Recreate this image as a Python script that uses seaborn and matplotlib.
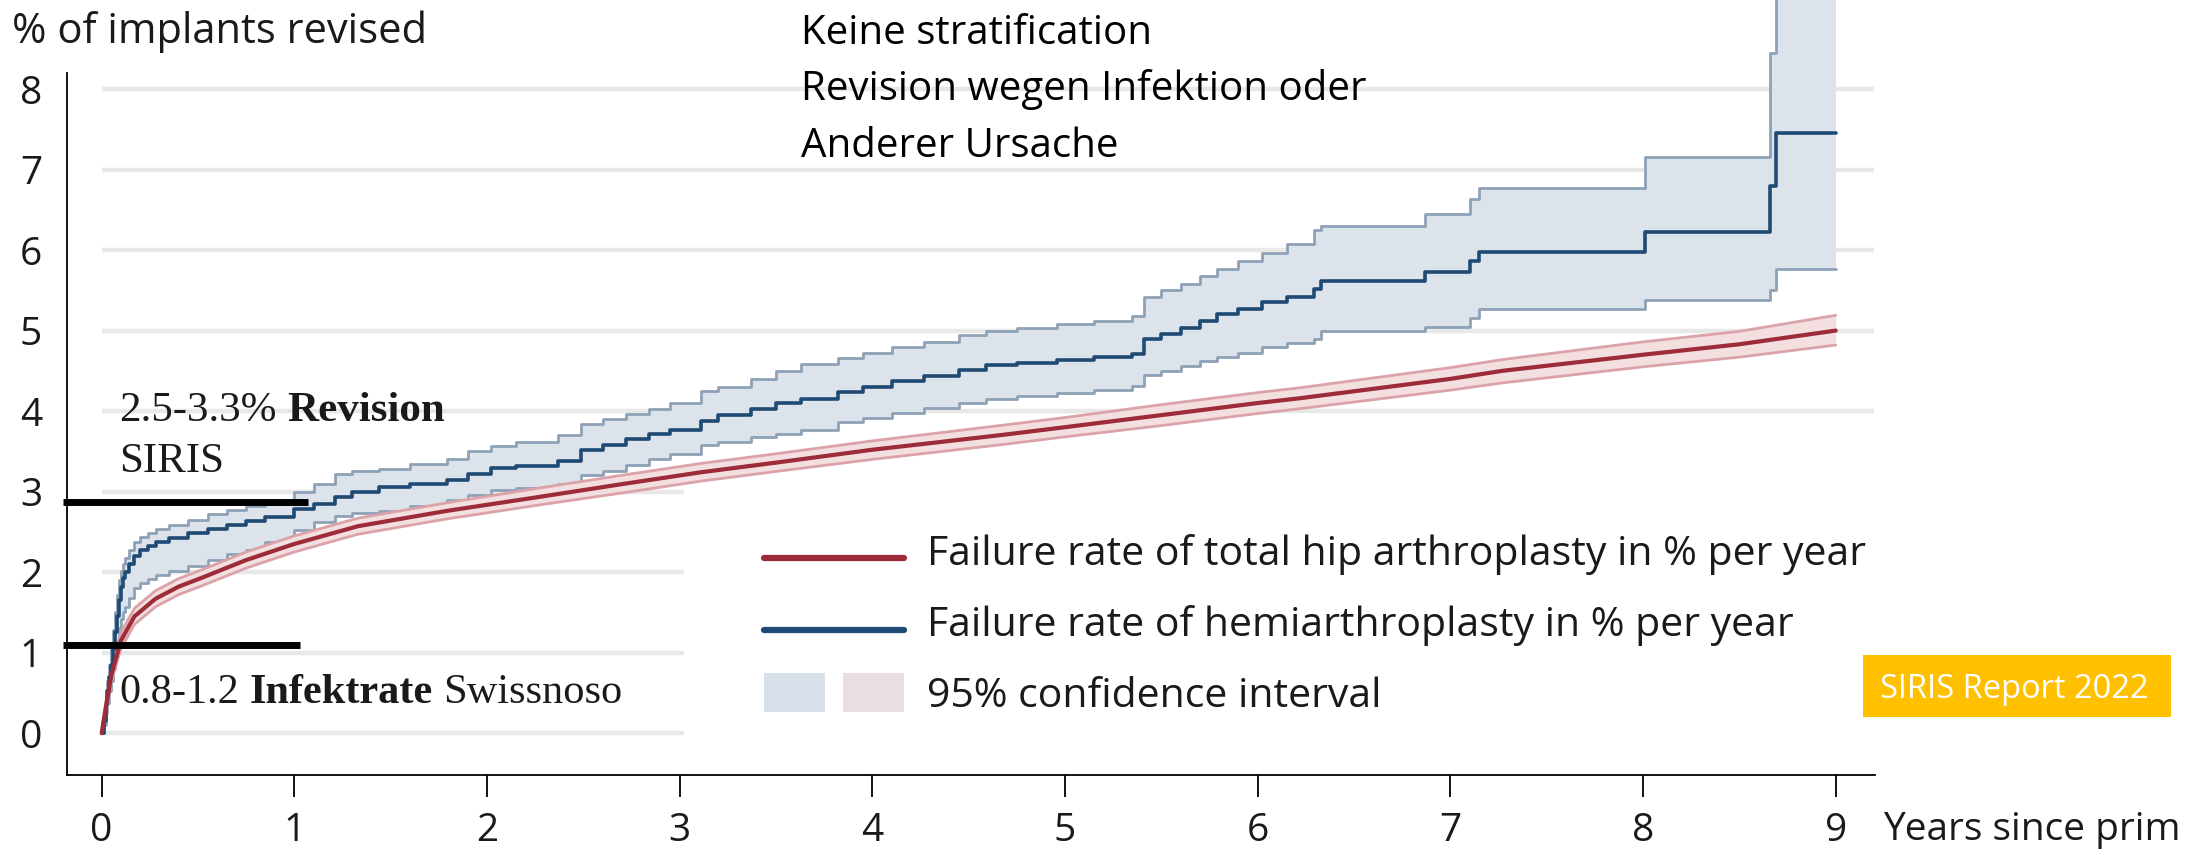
import numpy as np
import pandas as pd
import seaborn as sns
import matplotlib

matplotlib.use("Agg")
import matplotlib.pyplot as plt
from matplotlib.lines import Line2D
from matplotlib.patches import Patch, Rectangle
from matplotlib.legend_handler import HandlerTuple, HandlerLine2D

# total hip arthroplasty (red)
thp_years = [0.00, 0.02, 0.05, 0.10, 0.17, 0.28, 0.40, 0.52, 0.75, 1.00, 1.33, 1.79,
             2.26, 2.72, 3.11, 3.50, 4.00, 4.66, 5.00, 5.50, 6.00, 6.22, 7.00, 7.27,
             8.00, 8.50, 9.00]
thp_rate = [0.00, 0.30, 0.72, 1.15, 1.45, 1.67, 1.82, 1.93, 2.15, 2.35, 2.57, 2.76,
            2.93, 3.10, 3.24, 3.36, 3.52, 3.70, 3.80, 3.95, 4.10, 4.16, 4.40, 4.50,
            4.70, 4.83, 5.00]
thp_low = [0.00, 0.25, 0.64, 1.05, 1.35, 1.57, 1.72, 1.83, 2.05, 2.25, 2.47, 2.66,
           2.83, 2.99, 3.13, 3.25, 3.40, 3.58, 3.68, 3.82, 3.97, 4.03, 4.26, 4.35,
           4.55, 4.67, 4.82]
thp_high = [0.00, 0.35, 0.80, 1.25, 1.55, 1.77, 1.92, 2.03, 2.25, 2.45, 2.67, 2.86,
            3.04, 3.21, 3.35, 3.47, 3.63, 3.82, 3.92, 4.08, 4.23, 4.29, 4.54, 4.64,
            4.86, 4.99, 5.19]

# hemiarthroplasty (blue), Kaplan-Meier steps
hemi_years = [0.00, 0.01, 0.02, 0.03, 0.04, 0.05, 0.06, 0.07, 0.08, 0.09, 0.10, 0.11,
              0.12, 0.14, 0.17, 0.20, 0.24, 0.28, 0.35, 0.45, 0.55, 0.65,
              0.75, 0.85, 1.00, 1.10, 1.21, 1.30, 1.44, 1.60, 1.79, 1.90, 2.02, 2.15,
              2.37, 2.49, 2.60, 2.72, 2.84, 2.95, 3.11, 3.20, 3.37, 3.50, 3.63, 3.82,
              3.95, 4.10, 4.27, 4.45, 4.59, 4.75, 4.96, 5.15, 5.35, 5.41, 5.50, 5.60,
              5.70, 5.79, 5.90, 6.02, 6.15, 6.29, 6.33, 6.87, 7.10, 7.15, 8.01, 8.66,
              8.69, 9.00]
hemi_rate = [0.00, 0.15, 0.35, 0.52, 0.70, 0.85, 1.05, 1.25, 1.45, 1.65, 1.82, 1.93,
             2.00, 2.10, 2.20, 2.27, 2.32, 2.37, 2.42, 2.48, 2.54, 2.58,
             2.63, 2.68, 2.78, 2.85, 2.93, 3.00, 3.06, 3.10, 3.15, 3.22, 3.29, 3.32,
             3.38, 3.52, 3.58, 3.65, 3.71, 3.77, 3.88, 3.95, 4.03, 4.10, 4.15, 4.24,
             4.30, 4.37, 4.43, 4.51, 4.57, 4.60, 4.64, 4.67, 4.71, 4.90, 4.96, 5.03,
             5.12, 5.20, 5.27, 5.36, 5.42, 5.52, 5.62, 5.73, 5.86, 5.97, 6.22, 6.79,
             7.45, 7.45]
hemi_low = [0.00, 0.10, 0.25, 0.38, 0.52, 0.65, 0.80, 0.97, 1.15, 1.30, 1.42, 1.50,
            1.57, 1.68, 1.80, 1.86, 1.92, 1.97, 2.02, 2.08, 2.15, 2.22,
            2.28, 2.38, 2.52, 2.62, 2.70, 2.73, 2.76, 2.82, 2.90, 2.96, 3.02, 3.05,
            3.10, 3.20, 3.26, 3.33, 3.41, 3.47, 3.58, 3.62, 3.68, 3.72, 3.76, 3.86,
            3.92, 3.98, 4.04, 4.10, 4.15, 4.19, 4.23, 4.26, 4.31, 4.45, 4.50, 4.56,
            4.62, 4.67, 4.72, 4.80, 4.85, 4.90, 4.99, 5.05, 5.16, 5.27, 5.38, 5.50,
            5.77, 5.77]
hemi_high = [0.00, 0.20, 0.45, 0.65, 0.85, 1.05, 1.28, 1.50, 1.72, 1.90, 2.02, 2.10,
             2.17, 2.28, 2.38, 2.44, 2.49, 2.54, 2.58, 2.65, 2.72, 2.77,
             2.82, 2.88, 3.00, 3.10, 3.22, 3.25, 3.28, 3.34, 3.41, 3.50, 3.57, 3.62,
             3.70, 3.84, 3.90, 3.96, 4.03, 4.10, 4.25, 4.30, 4.40, 4.50, 4.58, 4.66,
             4.72, 4.79, 4.86, 4.94, 4.99, 5.03, 5.08, 5.12, 5.18, 5.42, 5.50, 5.58,
             5.68, 5.76, 5.86, 5.96, 6.08, 6.25, 6.30, 6.45, 6.64, 6.77, 7.16, 8.45,
             9.60, 9.60]

x_ticks = list(range(0, 10))
y_ticks = list(range(0, 9))

legend_labels = [
    "Failure rate of total hip arthroplasty in % per year",
    "Failure rate of hemiarthroplasty in % per year",
    "95% confidence interval",
]
note_lines = ["Keine stratification", "Revision wegen Infektion oder", "Anderer Ursache"]

RED = "#9e2b38"
RED_EDGE = "#dba3a9"
RED_FILL = "#f3dfe0"
BLUE = "#1e4a74"
BLUE_EDGE = "#8ea2b7"
BLUE_FILL = "#dce3eb"
GRID = "#e8e8e8"


class LowLine(HandlerLine2D):
    # legend line sits a bit lower than matplotlib's default
    def create_artists(self, legend, orig_handle, xdescent, ydescent, width, height, fontsize, trans):
        artists = super().create_artists(legend, orig_handle, xdescent, ydescent,
                                         width, height, fontsize, trans)
        for a in artists:
            a.set_ydata(np.asarray(a.get_ydata()) - 0.26 * fontsize)
        return artists


thp = pd.DataFrame({"years": thp_years, "rate": thp_rate})
hemi = pd.DataFrame({"years": hemi_years, "rate": hemi_rate})

sns.set_theme(style="white")
plt.rcParams["font.family"] = ["Open Sans", "DejaVu Sans"]
plt.rcParams["text.color"] = "#1a1a1a"

fig = plt.figure(figsize=(21.94, 8.51), dpi=100)
ax = fig.add_axes([67 / 2194, 1 - 775 / 851, (1875 - 67) / 2194, 775 / 851])
ax.set_xlim(-0.18, 9.204)
ax.set_ylim(-0.52, 9.106)

# gridlines stop at 3 years below the legend
for y in y_ticks:
    ax.hlines(y, 0, 3.02 if y <= 3 else 9.2, color=GRID, lw=3.2, zorder=0)

# hemiarthroplasty CI + line
ax.fill_between(hemi_years, hemi_low, hemi_high, step="post", color=BLUE_FILL, lw=0, zorder=1)
ax.step(hemi_years, hemi_low, where="post", color=BLUE_EDGE, lw=2, zorder=2)
ax.step(hemi_years, hemi_high, where="post", color=BLUE_EDGE, lw=2, zorder=2)
sns.lineplot(data=hemi, x="years", y="rate", color=BLUE, lw=2.6, drawstyle="steps-post",
             estimator=None, ax=ax, zorder=4)

# total hip CI + line
ax.fill_between(thp_years, thp_low, thp_high, color=RED_FILL, lw=0, zorder=3)
ax.plot(thp_years, thp_low, color=RED_EDGE, lw=2, zorder=3)
ax.plot(thp_years, thp_high, color=RED_EDGE, lw=2, zorder=3)
sns.lineplot(data=thp, x="years", y="rate", color=RED, lw=3, estimator=None, ax=ax, zorder=5)

# black reference bars
ax.hlines(2.87, -0.2, 1.07, color="black", lw=5, zorder=6, clip_on=False)
ax.hlines(1.10, -0.2, 1.03, color="black", lw=5, zorder=6, clip_on=False)

serif = ["Liberation Serif", "DejaVu Serif"]
t1 = ax.text(0.09, 3.88, "2.5-3.3%", family=serif, fontsize=31, va="baseline", zorder=7)
ax.annotate("Revision", xy=(1, 0), xycoords=t1, xytext=(7.8, 0), textcoords="offset points",
            family=serif, fontsize=31, weight="bold", va="bottom", ha="left")
ax.text(0.09, 3.24, "SIRIS", family=serif, fontsize=31, va="baseline")
t3 = ax.text(0.09, 0.37, "0.8-1.2", family=serif, fontsize=30.5, va="baseline")
t4 = ax.annotate("Infektrate", xy=(1, 0), xycoords=t3, xytext=(7.6, 0), textcoords="offset points",
                 family=serif, fontsize=30.5, weight="bold", va="bottom", ha="left")
ax.annotate("Swissnoso", xy=(1, 0), xycoords=t4, xytext=(7.6, 0), textcoords="offset points",
            family=serif, fontsize=30.5, va="bottom", ha="left")

# axes styling
ax.set_xticks(x_ticks)
ax.set_yticks(y_ticks)
ax.set_xlabel("")
ax.set_ylabel("")
sns.despine(ax=ax)
for side in ["left", "bottom"]:
    ax.spines[side].set_color("black")
    ax.spines[side].set_linewidth(1.3)
ax.spines["left"].set_bounds(-0.52, 8.2)
ax.tick_params(axis="x", bottom=True, length=15.8, width=1.3, pad=11, labelsize=28,
               direction="out", colors="black", labelcolor="#1a1a1a")
ax.tick_params(axis="y", left=False, length=0, pad=18, labelsize=28, labelcolor="#1a1a1a")

# legend
h_red = Line2D([], [], color=RED, lw=4.5)
h_blue = Line2D([], [], color=BLUE, lw=4.5)
h_ci = (Patch(facecolor="#d8e0e9", lw=0), Patch(facecolor="#e9dfe0", lw=0))
ax.legend([h_red, h_blue, h_ci], legend_labels,
          handler_map={Line2D: LowLine(), tuple: HandlerTuple(ndivide=None, pad=0.46)},
          loc="upper left", bbox_to_anchor=(764 / 2194, 1 - 531 / 851),
          bbox_transform=fig.transFigure, frameon=False, fontsize=29.5,
          handlelength=3.42, handleheight=1.1, handletextpad=0.56,
          labelspacing=0.67, borderpad=0, borderaxespad=0)

# figure texts
fig.text(12.5 / 2194, 1 - 43 / 851, "% of implants revised", fontsize=30, va="baseline")
fig.text(1883 / 2194, 1 - 840 / 851, "Years since prim", fontsize=28, va="baseline")
for i, line in enumerate(note_lines):
    fig.text(801 / 2194, 1 - (44 + 56.5 * i) / 851, line, fontsize=29, va="baseline", color="black")

fig.patches.append(Rectangle((1863 / 2194, 1 - 717 / 851), 308 / 2194, 62 / 851,
                             transform=fig.transFigure, facecolor="#FFC000", lw=0))
fig.text(2014 / 2194, 1 - 698 / 851, "SIRIS Report 2022", fontsize=23.5, color="white",
         ha="center", va="baseline")

fig.savefig("out.png", dpi=100)
